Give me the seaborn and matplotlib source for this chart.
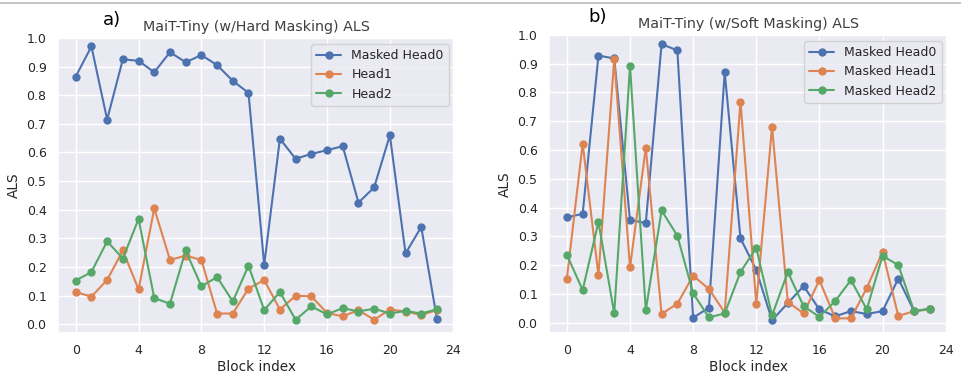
import pandas as pd
import matplotlib.pyplot as plt
import seaborn as sns
from matplotlib.lines import Line2D
from matplotlib.ticker import MultipleLocator

# Block indices
blocks = list(range(24))

# a) hard masking
hard_head0 = [0.865, 0.970, 0.715, 0.925, 0.920, 0.880, 0.950, 0.915, 0.940, 0.905, 0.850, 0.808,
              0.208, 0.648, 0.578, 0.595, 0.608, 0.622, 0.425, 0.478, 0.660, 0.248, 0.340, 0.018]
hard_head1 = [0.113, 0.097, 0.155, 0.258, 0.122, 0.405, 0.225, 0.240, 0.225, 0.038, 0.038, 0.125,
              0.155, 0.052, 0.100, 0.098, 0.040, 0.028, 0.050, 0.016, 0.052, 0.045, 0.033, 0.050]
hard_head2 = [0.153, 0.183, 0.290, 0.230, 0.368, 0.092, 0.072, 0.258, 0.133, 0.165, 0.080, 0.205,
              0.050, 0.113, 0.016, 0.063, 0.035, 0.057, 0.045, 0.055, 0.038, 0.047, 0.038, 0.053]
hard_labels = ["Masked Head0", "Head1", "Head2"]

# b) soft masking
soft_head0 = [0.366, 0.378, 0.928, 0.918, 0.357, 0.346, 0.968, 0.946, 0.017, 0.052, 0.870, 0.293,
              0.183, 0.008, 0.068, 0.127, 0.046, 0.022, 0.040, 0.030, 0.040, 0.153, 0.040, 0.048]
soft_head1 = [0.153, 0.622, 0.165, 0.915, 0.192, 0.608, 0.030, 0.066, 0.163, 0.117, 0.035, 0.768,
              0.066, 0.680, 0.072, 0.032, 0.148, 0.015, 0.015, 0.120, 0.246, 0.023, 0.040, 0.046]
soft_head2 = [0.236, 0.113, 0.350, 0.032, 0.892, 0.043, 0.390, 0.302, 0.102, 0.018, 0.032, 0.176,
              0.260, 0.025, 0.176, 0.057, 0.020, 0.075, 0.148, 0.046, 0.232, 0.200, 0.040, 0.048]
soft_labels = ["Masked Head0", "Masked Head1", "Masked Head2"]


def to_long(series, labels):
    frames = []
    for vals, lab in zip(series, labels):
        frames.append(pd.DataFrame({"Block index": blocks, "ALS": vals, "head": lab}))
    return pd.concat(frames, ignore_index=True)


sns.set_theme(style="darkgrid")
plt.rcParams['font.family'] = ['DejaVu Sans']

fig = plt.figure(figsize=(9.61, 3.75), dpi=100)
ax1 = fig.add_axes([0.060, 0.112, 0.4135, 0.787])
ax2 = fig.add_axes([0.571, 0.112, 0.4155, 0.795])

panels = [
    (ax1, to_long([hard_head0, hard_head1, hard_head2], hard_labels), hard_labels,
     "MaiT-Tiny (w/Hard Masking) ALS", "a)", 0.136, (-0.03, 1.0)),
    (ax2, to_long([soft_head0, soft_head1, soft_head2], soft_labels), soft_labels,
     "MaiT-Tiny (w/Soft Masking) ALS", "b)", 0.123, (-0.036, 1.0)),
]

for ax, df, labels, title, tag, tag_x, ylim in panels:
    sns.lineplot(data=df, x="Block index", y="ALS", hue="head", hue_order=labels,
                 palette="deep", marker="o", markersize=6, markeredgewidth=0,
                 linewidth=1.5, ax=ax)
    ax.set_xlim(-1.15, 24.15)
    ax.set_ylim(*ylim)
    ax.xaxis.set_major_locator(MultipleLocator(4))
    ax.yaxis.set_major_locator(MultipleLocator(0.1))
    ax.tick_params(labelsize=9, pad=2)
    ax.set_xlabel("Block index", fontsize=9.8, labelpad=2)
    ax.set_ylabel("ALS", fontsize=9.8, labelpad=4)
    ax.set_title(title, fontsize=10.3, pad=5, color=".25")
    ax.text(tag_x, 1.03, tag, transform=ax.transAxes, fontsize=13, color="black",
            ha="center", va="bottom")
    ax.legend(loc="upper right", fontsize=9, handlelength=2.0, borderaxespad=0.5)

# thin grey rule across the top
fig.add_artist(Line2D([0, 1], [0.991, 0.991], transform=fig.transFigure,
                      color="#bbbbbb", linewidth=1.2))

plt.savefig("out.png", dpi=100)
